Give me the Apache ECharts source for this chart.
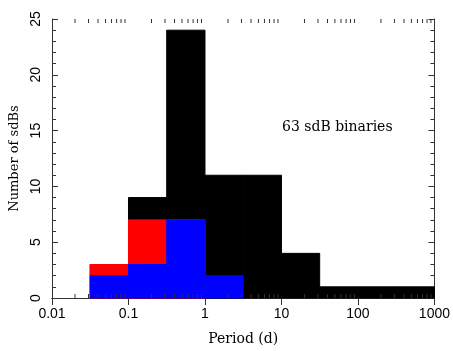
<!DOCTYPE html>
<html>
<head>
<meta charset="utf-8">
<script src="https://cdn.jsdelivr.net/npm/echarts@6/dist/echarts.min.js"></script>
<style>
  html, body { margin: 0; padding: 0; background: #fff; }
  #chart { width: 453px; height: 351px; }
</style>
</head>
<body>
<div id="chart"></div>
<script>
// bin edges in days (half-dex bins)
const binEdges = [0.0316, 0.1, 0.316, 1, 3.16, 10, 31.6, 100, 316, 1000]
const allCounts = [3, 9, 24, 11, 11, 4, 1, 1, 1]
const redCounts = [3, 7, 7, 0, 0, 0, 0, 0, 0]
const blueCounts = [2, 3, 7, 2, 0, 0, 0, 0, 0]
const xTickLabels = ['0.01', '0.1', '1', '10', '100', '1000']
const yTicks = [0, 5, 10, 15, 20, 25]
const minorTicksX = [
  0.02, 0.03, 0.04, 0.05, 0.06, 0.07, 0.08, 0.09,
  0.2, 0.3, 0.4, 0.5, 0.6, 0.7, 0.8, 0.9,
  2, 3, 4, 5, 6, 7, 8, 9,
  20, 30, 40, 50, 60, 70, 80, 90,
  200, 300, 400, 500, 600, 700, 800, 900
]

const chart = echarts.init(document.getElementById('chart'), null, { renderer: 'canvas' })

function histSeries(name, counts, color) {
  const data = counts.map((c, i) => [binEdges[i], binEdges[i + 1], c])
  return {
    name,
    type: 'custom',
    xAxisIndex: 0,
    yAxisIndex: 0,
    data,
    renderItem(params, api) {
      const h = api.value(2)
      if (!h) return null
      const p0 = api.coord([api.value(0), h])
      const p1 = api.coord([api.value(1), 0])
      return {
        type: 'rect',
        shape: { x: p0[0], y: p0[1], width: p1[0] - p0[0], height: p1[1] - p0[1] },
        style: { fill: color, stroke: color, lineWidth: 1 }
      }
    }
  }
}

const axisColor = '#333'
const numFont = 'Liberation Sans'
const textFont = 'DejaVu Serif'

const option = {
  animation: false,
  backgroundColor: '#fff',
  grid: { left: 52, right: 18, top: 19, bottom: 48 },
  xAxis: [
    {
      type: 'log',
      logBase: 10,
      min: 0.01,
      max: 1000,
      position: 'bottom',
      name: 'Period (d)',
      nameLocation: 'middle',
      nameGap: 34,
      nameTextStyle: { fontFamily: textFont, fontSize: 14, color: '#000' },
      axisLine: { lineStyle: { color: axisColor, width: 1 } },
      axisTick: { inside: true, length: 7, lineStyle: { color: axisColor } },
      axisLabel: {
        margin: 9,
        fontFamily: numFont,
        fontSize: 14,
        color: '#000',
        formatter: (v) => {
          const k = Math.round(Math.log10(v)) + 2
          return xTickLabels[k] || ''
        }
      },
      splitLine: { show: false },
      minorTick: { show: false }
    },
    {
      type: 'log',
      logBase: 10,
      min: 0.01,
      max: 1000,
      position: 'top',
      axisLine: { lineStyle: { color: axisColor, width: 1 } },
      axisTick: { inside: true, length: 7, lineStyle: { color: axisColor } },
      axisLabel: { show: false },
      splitLine: { show: false }
    }
  ],
  yAxis: [
    {
      type: 'value',
      min: 0,
      max: 25,
      interval: 5,
      name: 'Number of sdBs',
      nameLocation: 'middle',
      nameGap: 31,
      nameRotate: 90,
      nameTextStyle: { fontFamily: textFont, fontSize: 13, color: '#000' },
      axisLine: { show: true, lineStyle: { color: axisColor, width: 1 } },
      axisTick: { show: true, inside: true, length: 6, lineStyle: { color: axisColor } },
      minorTick: { show: true, splitNumber: 5, length: 4, lineStyle: { color: axisColor } },
      axisLabel: {
        rotate: 90,
        margin: 9,
        fontFamily: numFont,
        fontSize: 14,
        color: '#000',
        formatter: (v) => yTicks.includes(v) ? String(v) : ''
      },
      splitLine: { show: false }
    },
    {
      type: 'value',
      min: 0,
      max: 25,
      interval: 5,
      position: 'right',
      axisLine: { show: true, lineStyle: { color: axisColor, width: 1 } },
      axisTick: { show: true, inside: true, length: 6, lineStyle: { color: axisColor } },
      minorTick: { show: true, splitNumber: 5, length: 4, lineStyle: { color: axisColor } },
      axisLabel: { show: false },
      splitLine: { show: false }
    }
  ],
  graphic: [
    {
      type: 'text',
      left: 282,
      top: 120,
      style: { text: '63 sdB binaries', fontFamily: textFont, fontSize: 14, fill: '#000' }
    }
  ],
  series: [
    histSeries('all', allCounts, '#000000'),
    histSeries('red', redCounts, '#ff0000'),
    histSeries('blue', blueCounts, '#0000ff'),
    {
      name: 'minorTicks',
      type: 'custom',
      xAxisIndex: 0,
      yAxisIndex: 0,
      data: minorTicksX.map((v) => [v]),
      z: 10,
      renderItem(params, api) {
        const b = api.coord([api.value(0), 0])
        const t = api.coord([api.value(0), 25])
        const s = { stroke: axisColor, lineWidth: 1 }
        return {
          type: 'group',
          children: [
            { type: 'line', shape: { x1: b[0], y1: b[1], x2: b[0], y2: b[1] - 4 }, style: s },
            { type: 'line', shape: { x1: t[0], y1: t[1], x2: t[0], y2: t[1] + 4 }, style: s }
          ]
        }
      }
    }
  ]
}

chart.setOption(option)
</script>
</body>
</html>
